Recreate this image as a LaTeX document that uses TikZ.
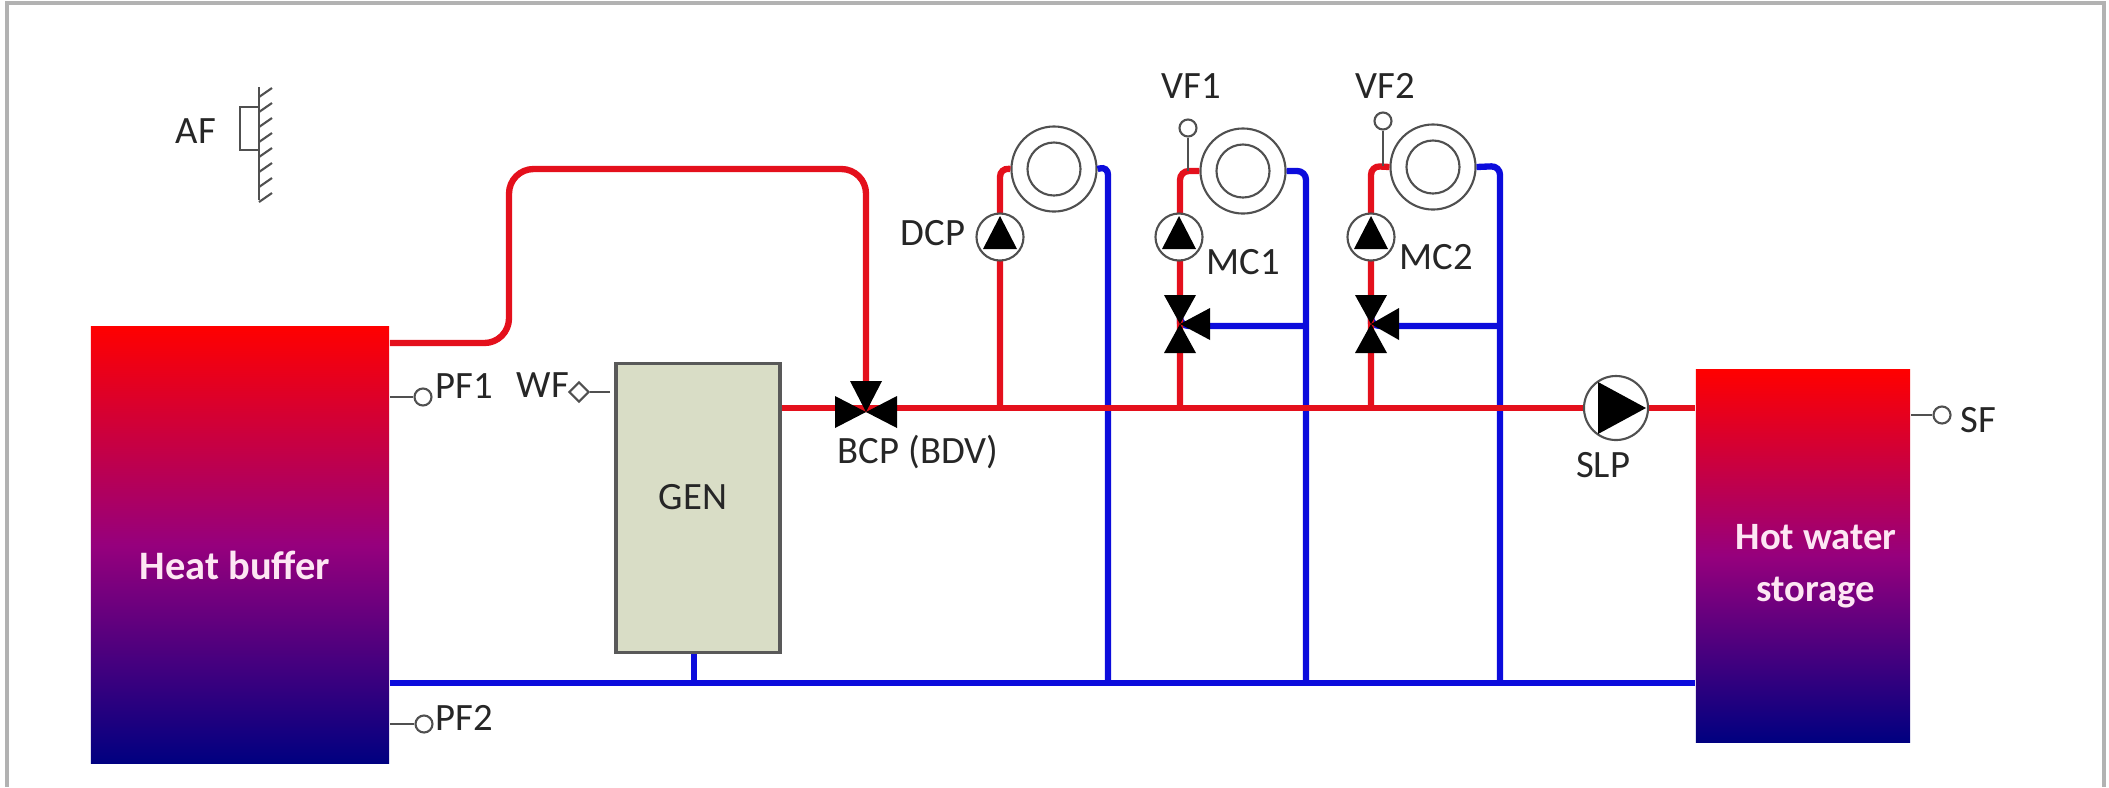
\documentclass[tikz,border=0pt]{standalone}
\usepackage{fontspec}
\setmainfont{Carlito}
\usepackage{xcolor}
\usetikzlibrary{calc, shapes.geometric}
\definecolor{hotpipe}{HTML}{E4101C}
\definecolor{coldpipe}{HTML}{0C0CDC}
\definecolor{gencolor}{HTML}{D9DDC6}
\definecolor{sensorline}{HTML}{505050}
\tikzset{
  txt/.style={font=\fontsize{11}{13}\selectfont, text=black!85, inner sep=0pt},
  tanktxt/.style={font=\fontsize{11}{14.8}\selectfont\bfseries, text=white!90!magenta, inner sep=0pt, align=center},
  tank/.style={inner sep=0pt, top color=red, bottom color={rgb,255:red,0;green,0;blue,128}, middle color={rgb,255:red,150;green,0;blue,125}},
  hot/.style={draw=hotpipe, line width=1.8pt, rounded corners=2.5pt},
  cold/.style={draw=coldpipe, line width=1.8pt, rounded corners=2.5pt},
  thinline/.style={draw=sensorline, line width=0.6pt},
  probe/.style={circle, thinline, fill=white, inner sep=0pt, minimum size=0.17cm},
  pumpcircle/.style={circle, thinline, fill=white, inner sep=0pt, minimum size=0.47cm},
  heater/.style={circle, thinline, inner sep=0pt, minimum size=0.85cm},
  heatercore/.style={circle, thinline, inner sep=0pt, minimum size=0.53cm},
  solid black/.style={fill=black}
}
\begin{document}
\begin{tikzpicture}[x=0.01cm, y=-0.01cm, >=stealth]
  \useasboundingbox (0,0) rectangle (2109,787);
  \draw[draw=black!30, line width=0.9pt] (7,787) -- (7,3) -- (2104,3) -- (2104,787);

  % tanks and generator
  \node[tank, minimum width=2.98cm, minimum height=4.37cm] (buffer) at (240,545) {};
  \node[tank, minimum width=2.14cm, minimum height=3.72cm] (storage) at (1803,556) {};
  \node[draw=black!65, fill=gencolor, line width=0.9pt, inner sep=0pt, minimum width=1.64cm, minimum height=2.89cm] (gen) at (698,508) {};
  \node[tanktxt, font=\fontsize{11.5}{14}\selectfont\bfseries] (buffertxt) at (235,565) {Heat buffer};
  \node[tanktxt] (storagetxt) at (1816,566) {Hot water\\storage};
  \node[txt] (gentxt) at (693,497) {GEN};

  \coordinate (bdv) at (866,412);
  \coordinate (mix1) at (1180,324);
  \coordinate (mix2) at (1371,324);
  \coordinate (buffhot) at (buffer.east |- 0,343);
  \coordinate (buffcold) at (buffer.east |- 0,683);
  \coordinate (stcold) at (storage.west |- 0,683);
  \coordinate (sthot) at (storage.west |- 0,408);

  % radiators
  \node[heater] (rad0) at (1054,169) {};
  \node[heatercore] (core0) at (1054,169) {};
  \node[heater] (rad1) at (1243,171) {};
  \node[heatercore] (core1) at (1243,171) {};
  \node[heater] (rad2) at (1433,167) {};
  \node[heatercore] (core2) at (1433,167) {};

  % cold pipes
  \draw[cold] (buffcold) -- (stcold);
  \draw[cold] (gen.south -| 694,0) -- (694,683);
  \draw[cold] (rad0.east) -- (1108,166) -- (1108,683);
  \draw[cold] (rad1.east) -- (1306,171) -- (1306,683);
  \draw[cold] (rad2.east) -- (1500,166) -- (1500,683);
  \draw[cold] (mix1) -- (1180,326) -- (1306,326);
  \draw[cold] (mix2) -- (1371,326) -- (1500,326);

  % hot pipes
  \draw[hot] (gen.east |- 0,408) -- (sthot);
  \draw[hot, rounded corners=7pt] (buffhot) -- (509,343) -- (509,169) -- (866,169) -- (bdv);
  \draw[hot] (1000,408) -- (1000,168) -- (rad0.west);
  \draw[hot] (1180,408) -- (1180,171) -- (rad1.west);
  \draw[hot] (1371,408) -- (1371,166) -- (rad2.west);

  % pumps
  \node[pumpcircle] (dcp) at (1000,237) {};
  \node[pumpcircle] (mc1) at (1179,237) {};
  \node[pumpcircle] (mc2) at (1371,237) {};
  \node[pumpcircle, minimum size=0.64cm] (slp) at (1616,408) {};
  \foreach \pump in {dcp, mc1, mc2}
    \fill[solid black] ($(\pump)+(0,-21)$) -- ($(\pump)+(-17,12)$) -- ($(\pump)+(17,12)$) -- cycle;
  \fill[solid black] ($(slp)+(-18,-26)$) -- ($(slp)+(30,0)$) -- ($(slp)+(-18,26)$) -- cycle;

  % valves
  \fill[solid black] (bdv) -- (835,396) -- (835,428) -- cycle;
  \fill[solid black] (bdv) -- (897,396) -- (897,428) -- cycle;
  \fill[solid black] (bdv) -- (850,381) -- (882,381) -- cycle;
  \foreach \mix/\xr in {mix1/30, mix2/28} {
    \fill[solid black] (\mix) -- ++(-16,-29) -- ++(32,0) -- cycle;
    \fill[solid black] (\mix) -- ++(-16,29) -- ++(32,0) -- cycle;
    \fill[solid black] (\mix) -- ++(\xr,-16) -- ++(0,32) -- cycle;
  }

  % sensors
  \node[probe] (pf1) at (423,397) {};
  \node[probe] (pf2) at (424,724) {};
  \node[probe] (sf) at (1942,415) {};
  \node[probe, diamond, minimum size=0.2cm] (wf) at (579,392) {};
  \node[probe] (vf1) at (1188,128) {};
  \node[probe] (vf2) at (1383,121) {};
  \draw[thinline] (buffer.east |- pf1) -- (pf1);
  \draw[thinline] (buffer.east |- pf2) -- (pf2);
  \draw[thinline] (storage.east |- sf) -- (sf);
  \draw[thinline] (610,392) -- (wf);
  \draw[thinline] (vf1) -- (1188,171);
  \draw[thinline] (vf2) -- (1383,166);

  % room sensor
  \draw[thinline] (259,87) -- (259,200);
  \foreach \y in {88,103,...,193}
    \draw[thinline] (259,\y+9) -- (272,\y);
  \draw[thinline] (259,107) -- (240,107) -- (240,150) -- (259,150);

  % labels
  \node[txt] (aftxt) at (196,131) {AF};
  \node[txt] (pf1txt) at (464,386) {PF1};
  \node[txt] (pf2txt) at (464,718) {PF2};
  \node[txt] (wftxt) at (543,385) {WF};
  \node[txt] (bdvtxt) at (918,452) {BCP (BDV)};
  \node[txt] (dcptxt) at (933,233) {DCP};
  \node[txt] (vf1txt) at (1191,86) {VF1};
  \node[txt] (vf2txt) at (1385,86) {VF2};
  \node[txt] (mc1txt) at (1243,262) {MC1};
  \node[txt] (mc2txt) at (1436,257) {MC2};
  \node[txt] (slptxt) at (1603,465) {SLP};
  \node[txt] (sftxt) at (1978,420) {SF};
\end{tikzpicture}
\end{document}
